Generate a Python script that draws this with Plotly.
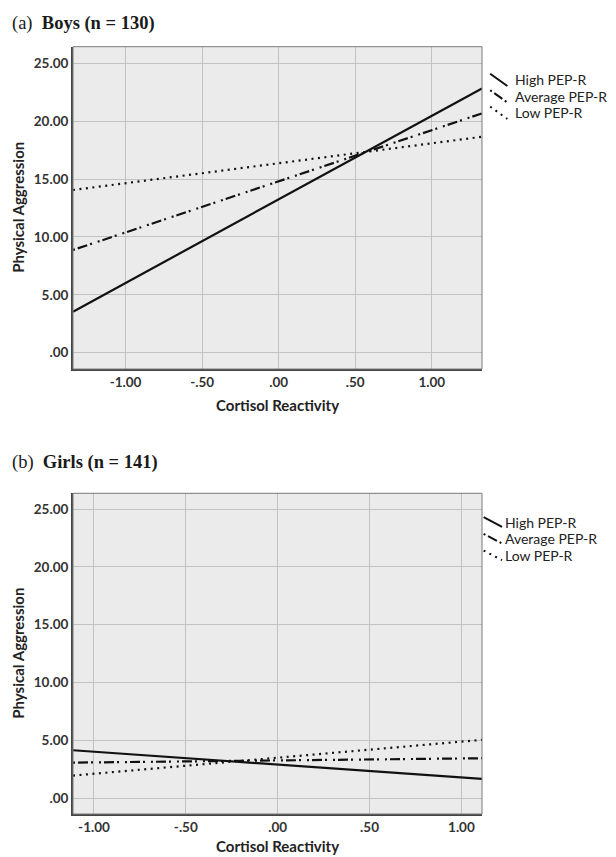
import plotly.graph_objects as go

# ---------------- data ----------------
boys_x = [-1.343, 1.328]
boys_high = [3.54, 22.83]
boys_avg = [8.87, 20.67]
boys_low = [14.05, 18.65]

girls_x = [-1.114, 1.112]
girls_high = [4.15, 1.68]
girls_avg = [3.08, 3.46]
girls_low = [1.96, 5.05]

x_tickvals = [-1.0, -0.5, 0.0, 0.5, 1.0]
x_ticktext = ["-1.00", "-.50", ".00", ".50", "1.00"]
y_tickvals = [0, 5, 10, 15, 20, 25]
y_ticktext = [".00", "5.00", "10.00", "15.00", "20.00", "25.00"]

series_names = ["High PEP-R", "Average PEP-R", "Low PEP-R"]
panel_titles = ["(a)&nbsp; <b>Boys (n = 130)</b>", "(b)&nbsp; <b>Girls (n = 141)</b>"]
x_title = "Cortisol Reactivity"
y_title = "Physical Aggression"

# ---------------- styles ----------------
W, H = 616, 857
dashes = ["solid", "2px,3px,10px,3px,2px,6px", "2px,4.5px"]
LINE_COL = "#111111"
BG = "#ebebeb"
GRID = "#c2c2c2"
TICKFONT = dict(family="Lato", size=13.5, color="#333333", weight="bold")
TITLEFONT = dict(family="Lato", size=15, color="#222222", weight="bold")
LEGFONT = dict(family="Lato", size=14, color="#222222")

fig = go.Figure()

panels = [
    ("x", "y", boys_x, [boys_high, boys_avg, boys_low]),
    ("x2", "y2", girls_x, [girls_high, girls_avg, girls_low]),
]
for xa, ya, xs, ys_list in panels:
    for name, ys, dash in zip(series_names, ys_list, dashes):
        fig.add_trace(go.Scatter(
            x=xs, y=ys, mode="lines", name=name, showlegend=False,
            line=dict(color=LINE_COL, width=2.2, dash=dash),
            xaxis=xa, yaxis=ya, hoverinfo="skip"))

common_x = dict(tickvals=x_tickvals, ticktext=x_ticktext, showgrid=True,
                gridcolor=GRID, gridwidth=1, zeroline=False, showline=True,
                linecolor="#444444", linewidth=2, ticks="", tickfont=TICKFONT,
                fixedrange=True)
common_y = dict(tickvals=y_tickvals, ticktext=y_ticktext, showgrid=True,
                gridcolor=GRID, gridwidth=1, zeroline=False, showline=True,
                linecolor="#444444", linewidth=2, ticks="", tickfont=TICKFONT,
                fixedrange=True)

x_dom = [73 / W, 482 / W]
boys_ydom = [1 - 369 / H, 1 - 46.7 / H]
girls_ydom = [1 - 814 / H, 1 - 493.3 / H]

fig.update_layout(
    width=W, height=H,
    margin=dict(l=0, r=0, t=0, b=0),
    paper_bgcolor="white",
    plot_bgcolor=BG,
    showlegend=False,
    xaxis=dict(domain=x_dom, range=boys_x, anchor="y", **common_x),
    yaxis=dict(domain=boys_ydom, range=[-1.41, 26.43], anchor="x", **common_y),
    xaxis2=dict(domain=x_dom, range=girls_x, anchor="y2", **common_x),
    yaxis2=dict(domain=girls_ydom, range=[-1.36, 26.36], anchor="x2", **common_y),
)

shapes = []
annotations = []

# plot frames (top/right thin border)
for xr, yr in [("x", "y"), ("x2", "y2")]:
    shapes.append(dict(type="rect", xref=f"{xr} domain", yref=f"{yr} domain",
                       x0=0, x1=1, y0=0, y1=1, line=dict(color="#7a7a7a", width=1),
                       layer="above"))

# custom SPSS-style legends (diagonal line symbols)
legend_specs = [
    ("x", "y", 1.020, 1.062, 1.076, 0.897, 0.051, 0.019),
    ("x2", "y2", 1.004, 1.049, 1.052, 0.9105, 0.052, 0.015),
]
for xr, yr, sx0, sx1, tx, y0c, step, half in legend_specs:
    for i, (name, dash) in enumerate(zip(series_names, dashes)):
        yc = y0c - i * step
        shapes.append(dict(type="line", xref=f"{xr} domain", yref=f"{yr} domain",
                           x0=sx0, x1=sx1, y0=yc + half, y1=yc - half,
                           line=dict(color=LINE_COL, width=2, dash=dash)))
        annotations.append(dict(xref=f"{xr} domain", yref=f"{yr} domain",
                                x=tx, y=yc, text=name, showarrow=False,
                                xanchor="left", yanchor="middle", font=LEGFONT))

# axis titles
for xr, yr, ypx in [("x", "y", 405), ("x2", "y2", 846)]:
    annotations.append(dict(xref=f"{xr} domain", yref="paper",
                            x=0.5, y=1 - ypx / H, text=x_title, showarrow=False,
                            xanchor="center", yanchor="middle", font=TITLEFONT))
    annotations.append(dict(xref="paper", yref=f"{yr} domain",
                            x=18 / W, y=0.5, text=y_title, showarrow=False,
                            textangle=-90, xanchor="center", yanchor="middle",
                            font=TITLEFONT))

# panel titles
for title, ypx in zip(panel_titles, [24, 463]):
    annotations.append(dict(xref="paper", yref="paper", x=10 / W, y=1 - ypx / H,
                            text=title, showarrow=False, xanchor="left",
                            yanchor="middle",
                            font=dict(family="Liberation Serif", size=18.5,
                                      color="#1a1a1a")))

fig.update_layout(shapes=shapes, annotations=annotations)

fig.write_html("out.html", config={"responsive": False, "displayModeBar": False},
               post_script="document.body.style.margin='0';document.body.style.overflow='hidden';")
